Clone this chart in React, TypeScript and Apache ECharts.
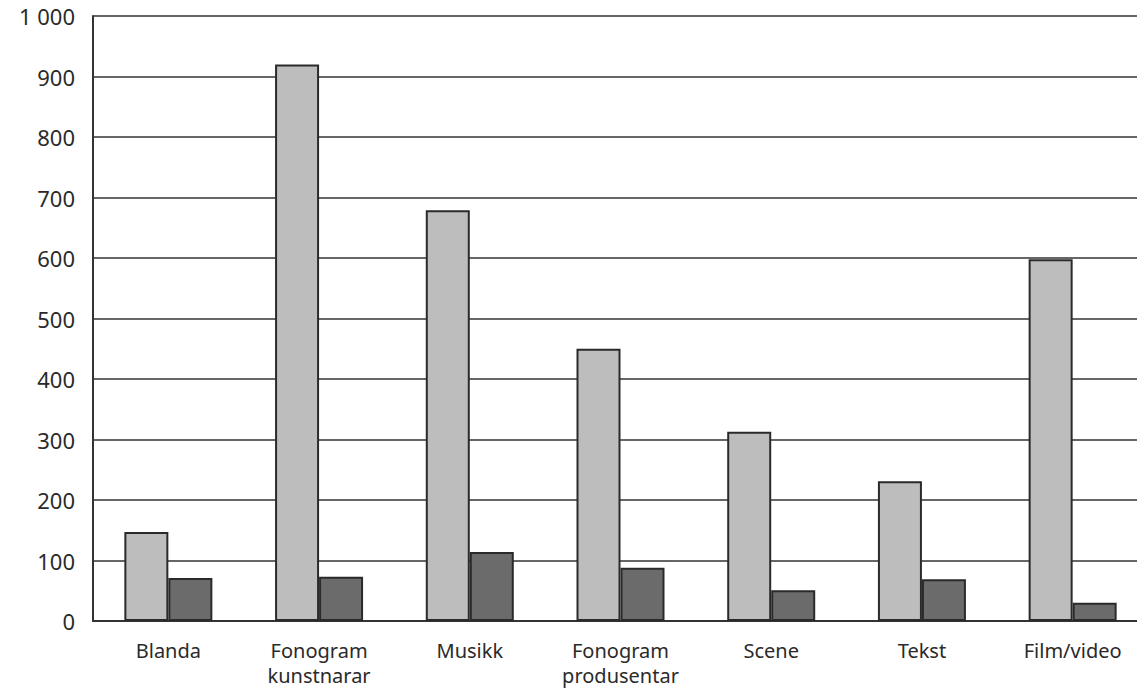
import React, { useEffect, useRef } from "react";
import * as echarts from "echarts";

const categories = [
  "Blanda",
  "Fonogram\nkunstnarar",
  "Musikk",
  "Fonogram\nprodusentar",
  "Scene",
  "Tekst",
  "Film/video",
];
const lightValues = [147, 920, 679, 450, 313, 231, 598];
const darkValues = [71, 73, 114, 88, 51, 69, 30];
const yTicks = [0, 100, 200, 300, 400, 500, 600, 700, 800, 900, 1000];

export default function App() {
  const ref = useRef<HTMLDivElement>(null);
  useEffect(() => {
    if (!ref.current) return;
    const chart = echarts.init(ref.current, undefined, { renderer: "svg" });
    chart.setOption({
      animation: false,
      backgroundColor: "#ffffff",
      grid: { left: 93, top: 16, bottom: 67, right: 12, containLabel: false },
      xAxis: {
        type: "category",
        data: categories,
        axisLine: { show: true, lineStyle: { color: "#333", width: 2 } },
        axisTick: { show: false },
        axisLabel: {
          interval: 0,
          hideOverlap: false,
          color: "#2a2a2a",
          fontFamily: "Noto Sans",
          fontSize: 20,
          lineHeight: 25,
          margin: 17,
        },
      },
      yAxis: {
        type: "value",
        min: yTicks[0],
        max: yTicks[yTicks.length - 1],
        interval: 100,
        axisLine: { show: true, lineStyle: { color: "#333", width: 2 } },
        axisTick: { show: false },
        splitLine: { show: true, lineStyle: { color: "#333", width: 1.6 } },
        axisLabel: {
          color: "#2a2a2a",
          fontFamily: "Noto Sans",
          fontSize: 22,
          margin: 18,
          formatter: (v: number) =>
            String(v).replace(/\B(?=(\d{3})+(?!\d))/g, " "),
        },
      },
      series: [
        {
          type: "bar",
          data: lightValues,
          barWidth: 44,
          barGap: "0%",
          itemStyle: { color: "#bdbdbd", borderColor: "#2a2a2a", borderWidth: 2 },
        },
        {
          type: "bar",
          data: darkValues,
          barWidth: 44,
          barGap: "0%",
          itemStyle: { color: "#6b6b6b", borderColor: "#2a2a2a", borderWidth: 2 },
        },
      ],
    });
    return () => chart.dispose();
  }, []);
  return (
    <div
      style={{
        position: "absolute",
        left: 0,
        top: 0,
        width: 1137,
        height: 688,
        overflow: "hidden",
        background: "#fff",
      }}
    >
      <div ref={ref} style={{ width: 1160, height: 688 }} />
    </div>
  );
}
